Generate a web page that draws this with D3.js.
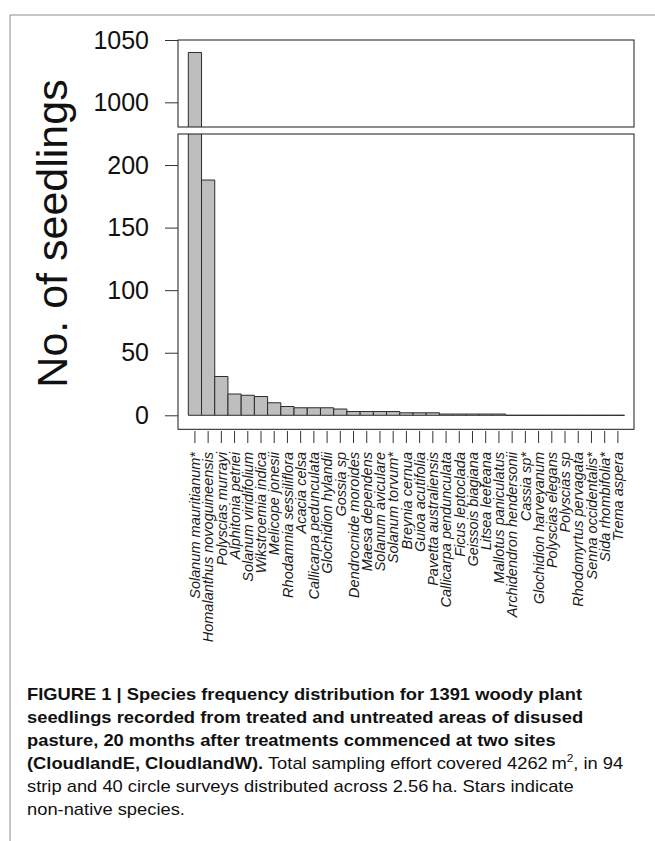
<!DOCTYPE html>
<html>
<head>
<meta charset="utf-8">
<script src="https://cdn.jsdelivr.net/npm/d3@7"></script>
<style>
  body { margin: 0; background: #fff; }
  svg { display: block; font-family: "Liberation Sans", Arial, Helvetica, sans-serif; }
</style>
</head>
<body>
<svg id="chart" width="655" height="841"></svg>
<script>
// species in rank order (stars = non-native)
const species = [
  "Solanum mauritianum*", "Homalanthus novoguineensis", "Polyscias murrayi",
  "Alphitonia petriei", "Solanum viridifolium", "Wikstroemia indica",
  "Melicope jonesii", "Rhodamnia sessiliflora", "Acacia celsa",
  "Callicarpa pedunculata", "Glochidion hylandii", "Gossia sp",
  "Dendrocnide moroides", "Maesa dependens", "Solanum aviculare",
  "Solanum torvum*", "Breynia cernua", "Guioa acutifolia",
  "Pavetta australiensis", "Callicarpa pendunculata", "Ficus leptoclada",
  "Geissois biagiana", "Litsea leefeana", "Mallotus paniculatus",
  "Archidendron hendersonii", "Cassia sp*", "Glochidion harveyanum",
  "Polyscias elegans", "Polyscias sp", "Rhodomyrtus pervagata",
  "Senna occidentalis*", "Sida rhombifolia*", "Trema aspera"
];
const seedlings = [
  1040, 188, 31, 17, 16, 15, 10, 7, 6, 6, 6, 5, 3, 3, 3, 3, 2,
  2, 2, 1, 1, 1, 1, 1, 0, 0, 0, 0, 0, 0, 0, 0, 0
];
const lowTicks = [0, 50, 100, 150, 200];
const highTicks = [1000, 1050];

const yLabel = "No. of seedlings";
const captionLines = [
  [{ t: "FIGURE 1 | Species frequency distribution for 1391 woody plant", b: true }],
  [{ t: "seedlings recorded from treated and untreated areas of disused", b: true }],
  [{ t: "pasture, 20 months after treatments commenced at two sites", b: true }],
  [{ t: "(CloudlandE, CloudlandW).", b: true },
   { t: " Total sampling effort covered 4262\u2009m" },
   { t: "2", sup: true },
   { t: ", in 94" }],
  [{ t: "strip and 40 circle surveys distributed across 2.56\u2009ha. Stars indicate" }],
  [{ t: "non-native species." }]
];

const data = species.map((s, i) => ({ name: s, value: seedlings[i] }));

const svg = d3.select("#chart");
const plotL = 178, plotR = 634;

const x = d3.scaleBand().domain(species).range([188.3, 624.5]).padding(0);
const yLow = d3.scaleLinear().domain([-11.2, 224.8]).range([429.3, 134]);
const yHigh = d3.scaleLinear().domain([980.2, 1050]).range([127, 40]);

// page frame
svg.append("path")
  .attr("d", "M10,841V15H655")
  .attr("fill", "none")
  .attr("stroke", "#8c8c8c")
  .attr("stroke-width", 1);

const defs = svg.append("defs");
defs.append("clipPath").attr("id", "clipHigh").append("rect")
  .attr("x", plotL).attr("y", yHigh(1050))
  .attr("width", plotR - plotL).attr("height", yHigh(980.2) - yHigh(1050));
defs.append("clipPath").attr("id", "clipLow").append("rect")
  .attr("x", plotL).attr("y", yLow(224.8))
  .attr("width", plotR - plotL).attr("height", yLow(-11.2) - yLow(224.8));

// path instead of rect so zero-height bars still show as a line
function barPath(d, y, floor) {
  const x0 = x(d.name), x1 = x0 + x.bandwidth();
  const y0 = y(floor), y1 = y(d.value);
  return `M${x0},${y0}V${y1}H${x1}V${y0}Z`;
}

// lower panel bars
svg.append("g")
  .attr("clip-path", "url(#clipLow)")
  .selectAll("path")
  .data(data)
  .enter()
  .append("path")
  .attr("d", (d) => barPath(d, yLow, 0))
  .attr("fill", "#bebebe")
  .attr("stroke", "#2b2b2b")
  .attr("stroke-width", 1);

// upper panel (broken axis) bars
svg.append("g")
  .attr("clip-path", "url(#clipHigh)")
  .selectAll("path")
  .data(data.filter((d) => d.value > 980))
  .enter()
  .append("path")
  .attr("d", (d) => barPath(d, yHigh, 975))
  .attr("fill", "#bebebe")
  .attr("stroke", "#2b2b2b")
  .attr("stroke-width", 1);

// panel boxes
svg.append("rect")
  .attr("x", plotL).attr("y", yHigh(1050))
  .attr("width", plotR - plotL).attr("height", yHigh(980.2) - yHigh(1050))
  .attr("fill", "none").attr("stroke", "#1a1a1a").attr("stroke-width", 1);
svg.append("rect")
  .attr("x", plotL).attr("y", yLow(224.8))
  .attr("width", plotR - plotL).attr("height", yLow(-11.2) - yLow(224.8))
  .attr("fill", "none").attr("stroke", "#1a1a1a").attr("stroke-width", 1);

// y axes
function styleY(g) {
  g.select(".domain").remove();
  g.selectAll(".tick line").attr("stroke", "#333");
  g.selectAll(".tick text")
    .attr("fill", "#111")
    .style("font-size", "25px")
    .style("font-family", "'Liberation Sans', Arial, sans-serif");
}
svg.append("g")
  .attr("transform", `translate(${plotL},0)`)
  .call(d3.axisLeft(yLow).tickValues(lowTicks).tickFormat(d3.format("d"))
    .tickSize(13).tickPadding(16))
  .call(styleY);
svg.append("g")
  .attr("transform", `translate(${plotL},0)`)
  .call(d3.axisLeft(yHigh).tickValues(highTicks).tickFormat(d3.format("d"))
    .tickSize(13).tickPadding(16))
  .call(styleY);

// x axis: ticks and rotated italic names
const xAxis = svg.append("g")
  .attr("transform", "translate(0,431)")
  .call(d3.axisBottom(x).tickSize(12).tickSizeOuter(0));
xAxis.select(".domain").remove();
xAxis.selectAll(".tick line").attr("stroke", "#333");
xAxis.selectAll(".tick text")
  .attr("transform", "rotate(-90)")
  .attr("x", -21)
  .attr("y", 0)
  .attr("dy", "0.36em")
  .attr("text-anchor", "end")
  .attr("fill", "#1a1a1a")
  .style("font-style", "italic")
  .style("font-size", "14.5px")
  .style("font-family", "'Liberation Sans', Arial, sans-serif");

// y label
svg.append("text")
  .attr("transform", "translate(67,233.5) rotate(-90)")
  .attr("text-anchor", "middle")
  .style("font-size", "43px")
  .attr("fill", "#111")
  .text(yLabel);

// caption
const cap = svg.append("g").style("font-size", "17px").attr("fill", "#111");
const capLines = cap.selectAll("text")
  .data(captionLines)
  .enter()
  .append("text")
  .attr("x", 27)
  .attr("y", (d, i) => 700 + i * 23);
capLines.each(function (parts) {
  const t = d3.select(this);
  parts.forEach((p, j) => {
    const ts = t.append("tspan").text(p.t);
    if (p.b) ts.style("font-weight", "bold");
    if (p.sup) ts.style("font-size", "11px").attr("dy", -7);
    else if (j > 0 && parts[j - 1].sup) ts.attr("dy", 7);
  });
});
// one common horizontal factor so the last line matches its width
const lastW = capLines.nodes()[5].getComputedTextLength();
const k = 158 / lastW;
capLines.attr("transform", `translate(27,0) scale(${k},1) translate(-27,0)`);
</script>
</body>
</html>
